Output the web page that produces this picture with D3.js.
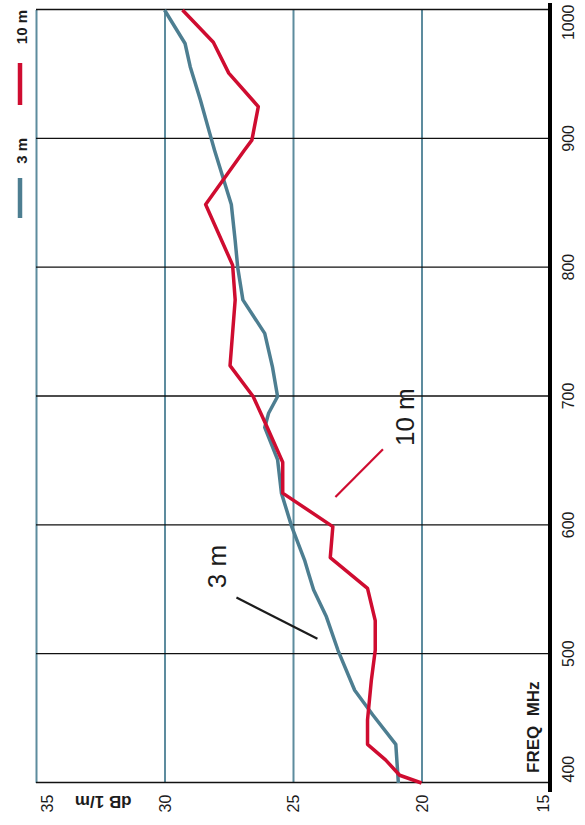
<!DOCTYPE html>
<html>
<head>
<meta charset="utf-8">
<script src="https://cdn.jsdelivr.net/npm/d3@7"></script>
<style>
  html, body { margin: 0; padding: 0; background: #ffffff; }
  svg { display: block; font-family: "Liberation Sans", Arial, sans-serif; }
</style>
</head>
<body>
<svg id="chart" width="585" height="825"></svg>
<script>
// Field strength vs frequency, measured at 3 m and 10 m.
const freqTicks = [400, 500, 600, 700, 800, 900, 1000];
const dbTicks = [35, 30, 25, 20, 15];

// 3 m series
const freq3 = [400, 430, 453, 472, 503, 529, 550, 563, 573, 599, 625, 651, 676, 687, 700, 723, 749, 775, 800, 821, 849, 891, 905, 930, 956, 974, 1000];
const db3   = [20.9, 21.0, 21.9, 22.6, 23.25, 23.7, 24.2, 24.4, 24.55, 25.05, 25.45, 25.6, 26.1, 25.95, 25.6, 25.8, 26.1, 26.95, 27.15, 27.25, 27.4, 28.05, 28.25, 28.6, 29.0, 29.2, 30.0];

// 10 m series
const freq10 = [400, 406, 418, 430, 449, 480, 503, 526, 551, 575, 599, 625, 649, 676, 700, 724, 775, 802, 849, 891, 899, 925, 951, 975, 1000];
const db10   = [20.0, 20.85, 21.4, 22.1, 22.1, 21.95, 21.8, 21.8, 22.1, 23.55, 23.45, 25.4, 25.4, 26.0, 26.55, 27.45, 27.25, 27.35, 28.4, 26.9, 26.6, 26.35, 27.5, 28.1, 29.3];

// Series labels with leader lines, in data units (freq, dB)
const seriesNames = ["3 m", "10 m"];
const labelFreq = [568, 684];
const labelDb = [27.95, 20.65];
const leaderFreq = [[544, 512], [659, 622]];
const leaderDb = [[27.2, 24.05], [21.5, 23.35]];

const RED = "#cf0c30";
const TEAL = "#4d7e91";
const GRID_TEAL = "#5d8c9e";
const INK = "#1c1c1c";

const svg = d3.select("#chart");
// Chart is laid out in a landscape frame and turned a quarter turn
const g = svg.append("g").attr("transform", "translate(0,825) rotate(-90)");

const x = d3.scaleLinear().domain([400, 1000]).range([42, 815]);
const y = d3.scaleLinear().domain([15, 35]).range([550, 36]);

// dB grid (teal) with labels
const yAxis = g.append("g")
  .attr("transform", `translate(${x(400)},0)`)
  .call(d3.axisLeft(y).tickValues(dbTicks).tickSize(-(x(1000) - x(400))).tickFormat(d3.format("d")));
yAxis.select(".domain").remove();
yAxis.selectAll(".tick line").attr("stroke", GRID_TEAL).attr("stroke-width", 2);
yAxis.selectAll(".tick text")
  .attr("x", -20.5).attr("dy", d => d === 35 ? "1.05em" : d === 15 ? "-0.1em" : "0.35em")
  .attr("text-anchor", "middle")
  .attr("fill", INK).attr("font-size", 16).attr("font-family", "Liberation Sans, Arial, sans-serif");

// Frequency grid (black) with labels
const xAxis = g.append("g")
  .attr("transform", `translate(0,${y(15)})`)
  .call(d3.axisBottom(x).tickValues(freqTicks).tickSize(-(y(15) - y(35))).tickFormat(d3.format("d")));
xAxis.select(".domain").remove();
xAxis.selectAll(".tick line").attr("stroke", "#111").attr("stroke-width", 1.4);
xAxis.selectAll(".tick text")
  .attr("y", 18).attr("dy", "0.35em")
  .attr("text-anchor", d => d === 400 ? "start" : d === 1000 ? "end" : "middle")
  .attr("dx", d => d === 1000 ? 5 : 0)
  .attr("fill", INK).attr("font-size", 16).attr("font-family", "Liberation Sans, Arial, sans-serif");

// Heavy baseline at 15 dB
g.append("line")
  .attr("x1", x(400) - 9).attr("x2", x(1000) + 7)
  .attr("y1", y(15)).attr("y2", y(15))
  .attr("stroke", "#000").attr("stroke-width", 4);

// Axis titles
g.append("text")
  .attr("transform", `translate(23.5,${(y(35) + y(30)) / 2 + 3}) rotate(-90)`)
  .attr("text-anchor", "middle").attr("dominant-baseline", "central")
  .attr("font-weight", "bold").attr("font-size", 17).attr("fill", INK)
  .text("dB 1/m");
g.append("text")
  .attr("x", x(400) + 10).attr("y", y(15) - 17)
  .attr("dominant-baseline", "central")
  .attr("font-weight", "bold").attr("font-size", 17).attr("fill", INK)
  .attr("xml:space", "preserve")
  .text("FREQ  MHz");

// Data lines
const line = d3.line().x(d => x(d[0])).y(d => y(d[1]));
g.append("path")
  .datum(d3.zip(freq3, db3))
  .attr("d", line).attr("fill", "none")
  .attr("stroke", TEAL).attr("stroke-width", 3.5).attr("stroke-linejoin", "round");
g.append("path")
  .datum(d3.zip(freq10, db10))
  .attr("d", line).attr("fill", "none")
  .attr("stroke", RED).attr("stroke-width", 3.5).attr("stroke-linejoin", "round");

// Series labels with leader lines
const labelColors = [INK, RED];
seriesNames.forEach((name, i) => {
  g.append("line")
    .attr("x1", x(leaderFreq[i][0])).attr("y1", y(leaderDb[i][0]))
    .attr("x2", x(leaderFreq[i][1])).attr("y2", y(leaderDb[i][1]))
    .attr("stroke", labelColors[i]).attr("stroke-width", 2.2);
  g.append("text")
    .attr("x", x(labelFreq[i])).attr("y", y(labelDb[i]))
    .attr("text-anchor", "middle").attr("dominant-baseline", "central")
    .attr("font-size", 26).attr("fill", INK)
    .text(name);
});

// Legend
const legend = g.append("g");
const legendItems = [
  { name: "10 m", color: RED, textEnd: 815, lineFrom: 720, lineTo: 762 },
  { name: "3 m", color: TEAL, textEnd: 687, lineFrom: 607, lineTo: 647 }
];
legendItems.forEach(it => {
  legend.append("line")
    .attr("x1", it.lineFrom).attr("x2", it.lineTo)
    .attr("y1", 20).attr("y2", 20)
    .attr("stroke", it.color).attr("stroke-width", 4.5);
  legend.append("text")
    .attr("x", it.textEnd).attr("y", 21)
    .attr("text-anchor", "end").attr("dominant-baseline", "central")
    .attr("font-weight", "bold").attr("font-size", 15).attr("fill", INK)
    .text(it.name);
});
</script>
</body>
</html>
